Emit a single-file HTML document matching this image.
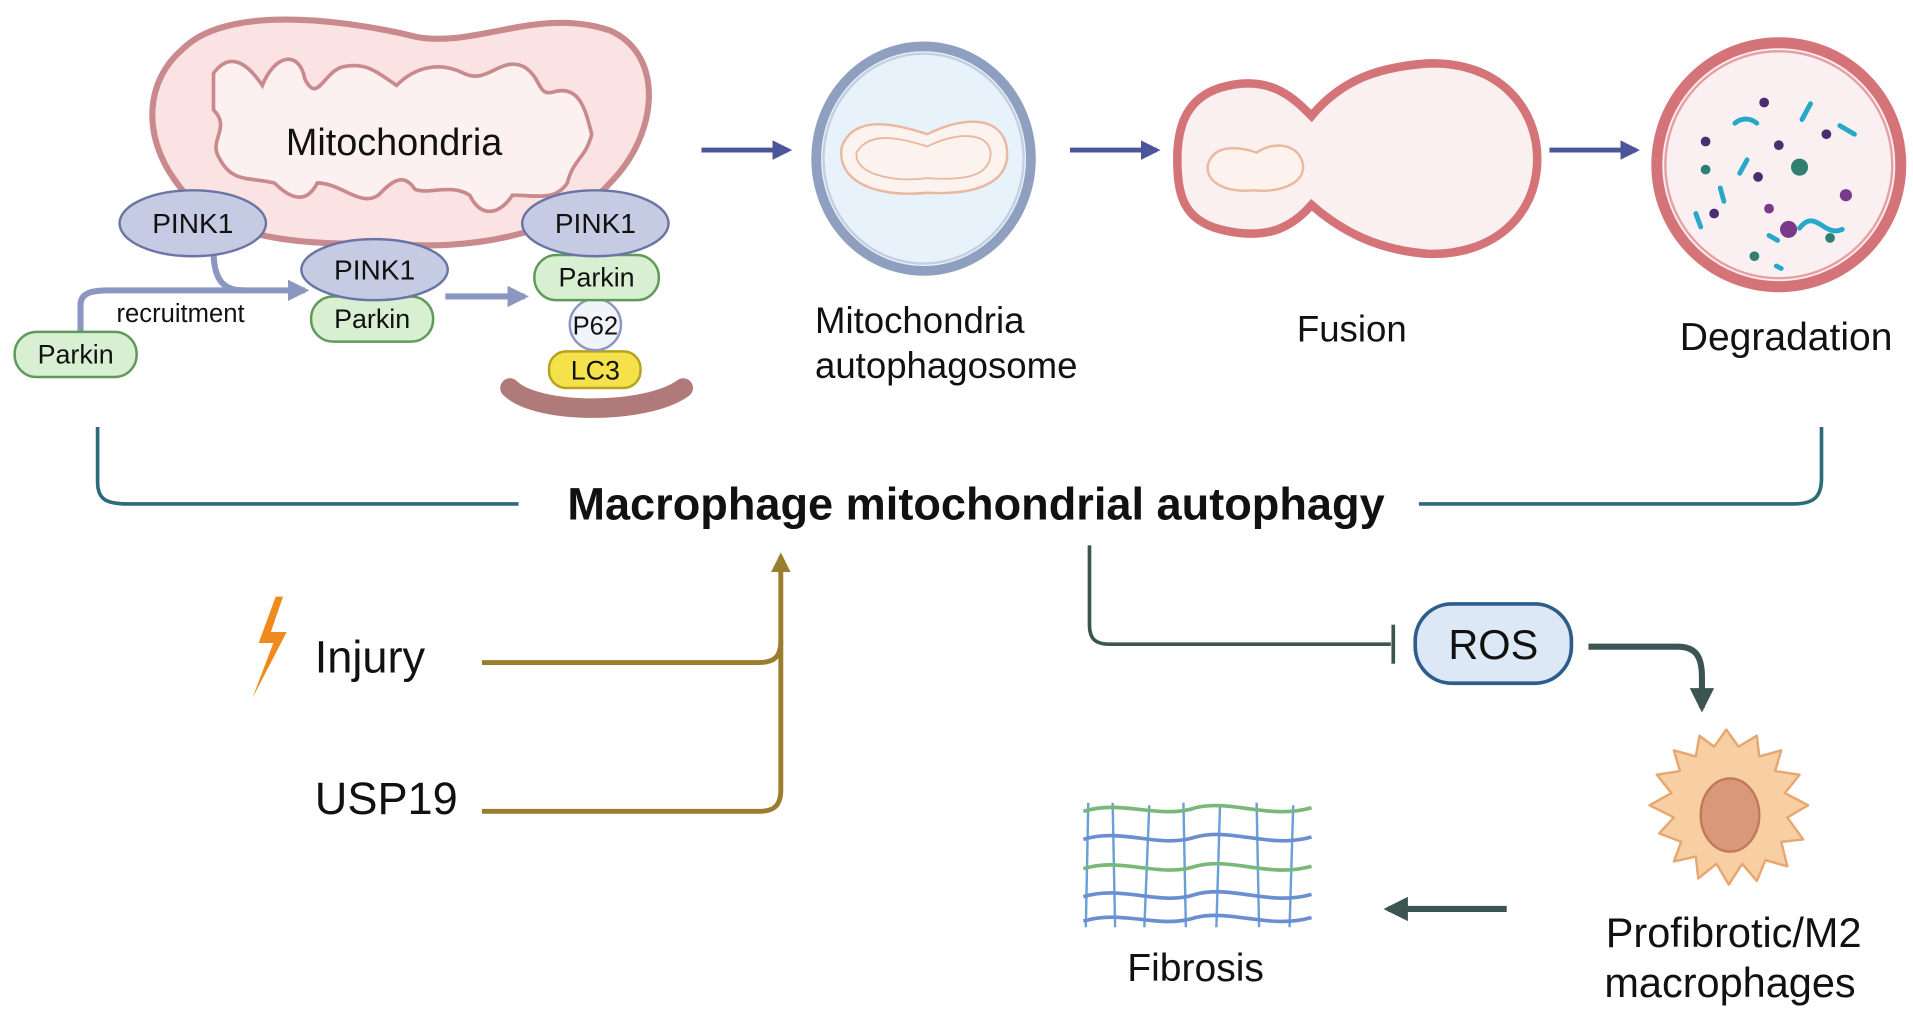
<!DOCTYPE html>
<html><head><meta charset="utf-8"><style>
html,body{margin:0;padding:0;background:#fff;}
svg{display:block;}
text{font-family:"Liberation Sans",Arial,sans-serif;fill:#111;}
</style></head><body>
<svg width="1913" height="1020" viewBox="0 0 1568 836" preserveAspectRatio="none" xmlns="http://www.w3.org/2000/svg">
<defs>
<marker id="ab" viewBox="0 0 10 10" refX="8" refY="5" markerWidth="4" markerHeight="4" orient="auto"><path d="M0,0L10,5L0,10z" fill="#4a559a"/></marker>
<marker id="al" viewBox="0 0 10 10" refX="8" refY="5" markerWidth="3.5" markerHeight="3.5" orient="auto"><path d="M0,0L10,5L0,10z" fill="#8b97c0"/></marker>
<marker id="ao" viewBox="0 0 10 10" refX="8" refY="5" markerWidth="4" markerHeight="5" orient="auto"><path d="M0,0L10,5L0,10z" fill="#9a7d2e"/></marker>
<marker id="ag" viewBox="0 0 10 10" refX="8" refY="5" markerWidth="4" markerHeight="4" orient="auto"><path d="M0,0L10,5L0,10z" fill="#3d5552"/></marker>
</defs>

<!-- Mitochondria -->
<path d="M150,40 C190,0 300,20 340,30 C390,40 440,5 500,25 C545,45 540,110 500,150 C460,195 380,205 320,200 C250,200 180,200 145,150 C115,110 120,65 150,40Z" fill="#fbe3e3" stroke="#c98a8d" stroke-width="5"/>
<path d="M175,60 C190,40 205,55 215,70 C225,45 245,40 250,65 C260,85 265,60 280,55 C300,50 310,60 325,70 C340,55 360,50 380,60 C400,70 410,45 430,55 C445,65 440,80 455,75 C475,70 480,90 485,110 C480,130 470,130 465,150 C455,165 440,160 420,160 C410,175 395,180 385,160 C370,150 350,160 340,155 C330,140 320,150 310,160 C295,170 280,150 260,150 C250,170 235,160 225,150 C205,145 190,150 180,130 C170,115 190,105 175,90Z" fill="#fdf0f0" stroke="#c98a8d" stroke-width="3"/>
<text x="323" y="127" font-size="31" text-anchor="middle">Mitochondria</text>

<!-- recruitment arrows -->
<path d="M175,205 C175,232 185,238 200,238 L250,238" fill="none" stroke="#8b97c0" stroke-width="5" marker-end="url(#al)"/>
<path d="M66,272 L66,250 C66,240 75,238 90,238 L200,238" fill="none" stroke="#8b97c0" stroke-width="5"/>
<path d="M365,243 L430,243" fill="none" stroke="#8b97c0" stroke-width="5" marker-end="url(#al)"/>
<text x="148" y="264" font-size="21" text-anchor="middle" fill="#333">recruitment</text>

<rect x="12" y="272" width="100" height="37" rx="18" fill="#d8efd2" stroke="#5f9a5a" stroke-width="2"/>
<text x="62" y="298" font-size="22" text-anchor="middle">Parkin</text>
<ellipse cx="158" cy="183" rx="60" ry="27" fill="#c5cbe3" stroke="#6a75a5" stroke-width="2"/>
<text x="158" y="191" font-size="23" text-anchor="middle">PINK1</text>

<rect x="255" y="243" width="100" height="37" rx="18" fill="#d8efd2" stroke="#5f9a5a" stroke-width="2"/>
<text x="305" y="269" font-size="22" text-anchor="middle">Parkin</text>
<ellipse cx="307" cy="221" rx="60" ry="25" fill="#c5cbe3" stroke="#6a75a5" stroke-width="2"/>
<text x="307" y="229" font-size="23" text-anchor="middle">PINK1</text>

<path d="M418,318 C440,340 530,340 560,318" fill="none" stroke="#b07a7a" stroke-width="16" stroke-linecap="round"/>
<rect x="450" y="288" width="75" height="30" rx="14" fill="#f5e14a" stroke="#b8a020" stroke-width="2"/>
<text x="488" y="311" font-size="22" text-anchor="middle">LC3</text>
<circle cx="488" cy="266" r="21" fill="#f2f4fb" stroke="#8b97c0" stroke-width="2"/>
<text x="488" y="274" font-size="21" text-anchor="middle">P62</text>
<rect x="438" y="209" width="102" height="37" rx="18" fill="#d8efd2" stroke="#5f9a5a" stroke-width="2"/>
<text x="489" y="235" font-size="22" text-anchor="middle">Parkin</text>
<ellipse cx="488" cy="183" rx="60" ry="27" fill="#c5cbe3" stroke="#6a75a5" stroke-width="2"/>
<text x="488" y="191" font-size="23" text-anchor="middle">PINK1</text>

<!-- process arrows -->
<path d="M575,123 L646,123" stroke="#4a559a" stroke-width="4" marker-end="url(#ab)"/>
<path d="M877,123 L948,123" stroke="#4a559a" stroke-width="4" marker-end="url(#ab)"/>
<path d="M1270,123 L1341,123" stroke="#4a559a" stroke-width="4" marker-end="url(#ab)"/>

<!-- autophagosome -->
<ellipse cx="757" cy="130" rx="88" ry="92" fill="#e8f2fa" stroke="#8f9fc0" stroke-width="8"/>
<ellipse cx="757" cy="130" rx="82" ry="86" fill="none" stroke="#c5cfe3" stroke-width="2"/>
<path d="M690,120 C700,95 730,100 760,110 C790,95 820,95 825,120 C830,150 800,160 760,158 C720,162 685,150 690,120Z" fill="#fdf3ee" stroke="#e8b8a0" stroke-width="2"/>
<path d="M702,125 C712,108 735,112 760,120 C785,108 810,108 812,125 C812,145 790,148 760,146 C730,150 700,142 702,125Z" fill="none" stroke="#e8b8a0" stroke-width="1.5"/>

<!-- fusion -->
<path d="M1000,72 C1040,60 1060,80 1075,95 C1100,65 1130,55 1170,52 C1230,50 1260,90 1260,130 C1260,180 1220,210 1170,208 C1130,205 1100,190 1075,168 C1060,185 1040,198 1000,188 C970,180 965,160 965,130 C965,100 975,80 1000,72Z" fill="#fbf0f0" stroke="#d47378" stroke-width="7"/>
<path d="M990,135 C995,118 1015,120 1030,125 C1045,115 1065,118 1068,135 C1070,152 1045,158 1028,156 C1005,158 988,150 990,135Z" fill="#fdf3ee" stroke="#e8b8a0" stroke-width="2"/>

<!-- degradation -->
<circle cx="1458" cy="135" r="100" fill="#faeff1" stroke="#d47378" stroke-width="9"/>
<circle cx="1458" cy="135" r="93" fill="none" stroke="#e8a0a4" stroke-width="2"/>
<g fill="#4a2d6e">
<circle cx="1446" cy="84" r="4"/><circle cx="1497" cy="110" r="4"/><circle cx="1398" cy="116" r="4"/><circle cx="1458" cy="119" r="4"/><circle cx="1441" cy="145" r="4"/><circle cx="1405" cy="175" r="4"/>
</g>
<g fill="#7a3a8a"><circle cx="1450" cy="171" r="4"/><circle cx="1513" cy="160" r="5"/><circle cx="1466" cy="188" r="7"/></g>
<g fill="#2f7f72"><circle cx="1398" cy="139" r="4"/><circle cx="1475" cy="137" r="7"/><circle cx="1500" cy="195" r="4"/><circle cx="1438" cy="210" r="4"/></g>
<g stroke="#27a8c8" stroke-width="4" fill="none" stroke-linecap="round">
<path d="M1422,101 C1428,96 1435,97 1440,101"/><path d="M1484,85 L1477,98"/><path d="M1508,103 L1520,110"/><path d="M1432,131 L1426,142"/><path d="M1410,154 L1413,165"/><path d="M1390,175 L1394,186"/><path d="M1450,193 L1457,197"/><path d="M1475,187 C1488,170 1495,195 1510,188"/><path d="M1456,218 L1460,220"/>
</g>

<text x="668" y="273" font-size="30">Mitochondria</text>
<text x="668" y="310" font-size="30">autophagosome</text>
<text x="1108" y="280" font-size="30" text-anchor="middle">Fusion</text>
<text x="1464" y="287" font-size="32" text-anchor="middle">Degradation</text>

<!-- bracket -->
<path d="M80,350 L80,395 C80,410 88,413 105,413 L425,413" fill="none" stroke="#2e6b7a" stroke-width="3"/>
<path d="M1163,413 L1470,413 C1487,413 1493,407 1493,392 L1493,350" fill="none" stroke="#2e6b7a" stroke-width="3"/>
<text x="800" y="426" font-size="37" font-weight="bold" text-anchor="middle">Macrophage mitochondrial autophagy</text>

<!-- Injury / USP19 -->
<path d="M226,489 L212,527 L224,527 L207,572 L235,518 L222,518 L232,489Z" fill="#f08a1c"/>
<text x="258" y="551" font-size="37">Injury</text>
<text x="258" y="667" font-size="37">USP19</text>
<path d="M395,543 L622,543 C635,543 640,538 640,525" fill="none" stroke="#9a7d2e" stroke-width="4"/>
<path d="M395,665 L622,665 C635,665 640,660 640,647 L640,456" fill="none" stroke="#9a7d2e" stroke-width="4" marker-end="url(#ao)"/>

<!-- ROS path -->
<path d="M893,447 L893,512 C893,524 898,528 910,528 L1140,528" fill="none" stroke="#3d5552" stroke-width="3"/>
<path d="M1142,512 L1142,544" stroke="#3d5552" stroke-width="3"/>
<rect x="1160" y="495" width="128" height="65" rx="30" fill="#dce8f5" stroke="#2d5d8a" stroke-width="3"/>
<text x="1224" y="540" font-size="34" text-anchor="middle">ROS</text>
<path d="M1302,530 L1375,530 C1390,530 1395,538 1395,555 L1395,580" fill="none" stroke="#3d5552" stroke-width="5" marker-end="url(#ag)"/>

<!-- macrophage -->
<path d="M1415,598 L1425,612 L1440,603 L1442,620 L1460,615 L1455,632 L1475,635 L1463,650 L1482,660 L1465,670 L1478,688 L1460,690 L1465,710 L1447,705 L1440,722 L1428,708 L1417,725 L1407,708 L1392,720 L1390,702 L1372,706 L1378,690 L1360,683 L1372,670 L1352,660 L1370,650 L1358,635 L1377,632 L1372,615 L1390,620 L1393,603 L1405,612Z" fill="#f7cfa2" stroke="#e8a670" stroke-width="2" stroke-linejoin="round"/>
<ellipse cx="1418" cy="668" rx="24" ry="30" fill="#d9987a" stroke="#c07a5a" stroke-width="2"/>
<path d="M1235,745 L1138,745" stroke="#3d5552" stroke-width="5" marker-end="url(#ag)"/>

<!-- fibrosis mesh -->
<g fill="none" stroke-width="2">
<g stroke="#6aa0d8"><path d="M892,658 L890,760"/><path d="M912,658 L914,760"/><path d="M942,660 L938,760"/><path d="M970,658 L972,760"/><path d="M1000,660 L997,760"/><path d="M1030,658 L1032,760"/><path d="M1060,660 L1057,760"/></g>
<g stroke="#7ab87a" stroke-width="3"><path d="M888,665 C920,655 950,672 980,662 C1010,655 1040,672 1075,662"/><path d="M888,712 C920,702 950,720 980,710 C1010,702 1040,720 1075,710"/></g>
<g stroke="#6a8fd0" stroke-width="3"><path d="M888,688 C920,678 950,696 980,686 C1010,678 1040,696 1075,686"/><path d="M888,735 C920,725 950,743 980,733 C1010,725 1040,743 1075,733"/><path d="M888,755 C920,745 950,762 980,752 C1010,745 1040,762 1075,752"/></g>
</g>
<text x="980" y="804" font-size="32" text-anchor="middle">Fibrosis</text>
<text x="1421" y="776" font-size="34" text-anchor="middle">Profibrotic/M2</text>
<text x="1418" y="817" font-size="34" text-anchor="middle">macrophages</text>
</svg>
</body></html>
